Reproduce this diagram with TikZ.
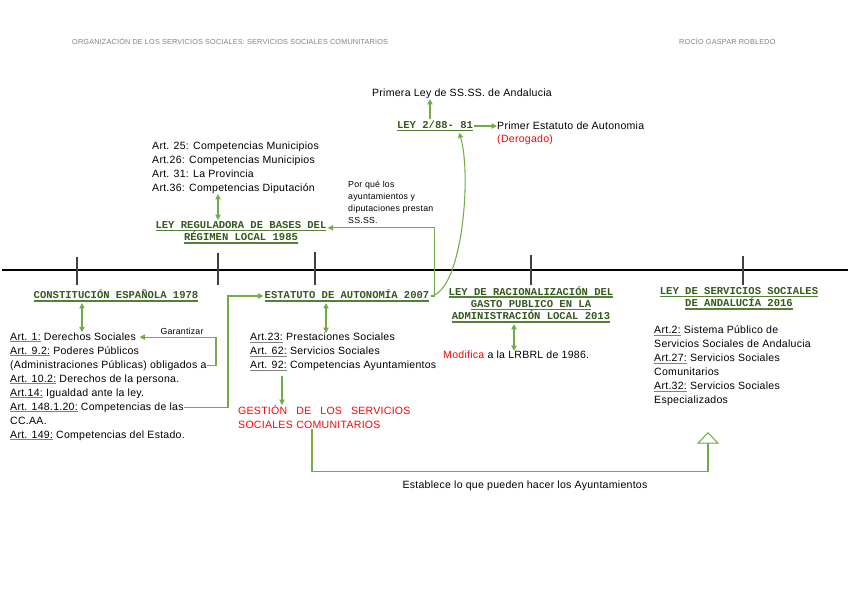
\documentclass[tikz,border=0pt]{standalone}
\usepackage{fontspec}
\setmainfont{Liberation Sans}[LetterSpace=2.5]
\newfontfamily\hdfamily{Liberation Mono}
\usetikzlibrary{arrows.meta}
\definecolor{arrgreen}{RGB}{112,173,71}
\definecolor{hdgreen}{RGB}{52,88,32}
\definecolor{hdline}{RGB}{84,130,53}
\newcommand\artu[1]{{\setbox0\hbox{#1}\rlap{\textcolor{gray}{\rule[-1.6pt]{\wd0}{0.5pt}}}\box0}}
\newcommand\hdu[1]{{\setbox0\hbox{#1}\rlap{\textcolor{hdline}{\rule[-2.4pt]{\wd0}{1.2pt}}}\box0}}
\begin{document}
\begin{tikzpicture}[x=0.03cm,y=-0.03cm,
  txt/.style={font=\fontsize{9}{11.9}\selectfont,inner sep=0pt,align=left},
  hd/.style={font=\hdfamily\bfseries\fontsize{9}{10.6}\selectfont,text=hdgreen,align=center,inner sep=1pt},
  small/.style={font=\fontsize{7.5}{10.2}\selectfont,inner sep=0pt,align=left},
  tiny/.style={font=\fontsize{6.2}{7}\selectfont,text=gray,inner sep=0pt},
  link/.style={arrgreen,line width=0.9pt,-{Triangle[length=4.5pt,width=4.5pt]}},
  both/.style={arrgreen,line width=0.9pt,{Triangle[length=4.5pt,width=4.5pt]}-{Triangle[length=4.5pt,width=4.5pt]}},
  tickmark/.style={black!75,line width=1.2pt}]
\useasboundingbox (0,0) rectangle (848,599);
\node[tiny,anchor=west] (hdr) at (72,41) {ORGANIZACIÓN DE LOS SERVICIOS SOCIALES: SERVICIOS SOCIALES COMUNITARIOS};
\node[tiny,anchor=west] (autor) at (679,41) {ROCÍO GASPAR ROBLEDO};
\draw[line width=2.4pt] (2,270) -- (848,270);
\draw[tickmark] (77,257) -- (77,285);
\draw[tickmark] (218,253) -- (218,285);
\draw[tickmark] (315,252) -- (315,285);
\draw[tickmark] (531,255) -- (531,285);
\draw[tickmark] (743,256) -- (743,285);
\node[txt] (primera) at (462,94) {Primera Ley de SS.SS. de Andalucia};
\node[hd] (ley88) at (435,126) {\hdu{LEY 2/88- 81}};
\node[txt,anchor=west] (primer) at (497,126) {Primer Estatuto de Autonomia};
\node[txt,anchor=west,text=red] (derog) at (497,140) {(Derogado)};
\node[txt,anchor=north west] (arts25) at (152,142) {Art. 25: Competencias Municipios\\Art.26: Competencias Municipios\\Art. 31: La Provincia\\Art.36: Competencias Diputación};
\node[small,anchor=north west] (porque) at (348,181) {Por qué los\\ayuntamientos y\\diputaciones prestan\\SS.SS.};
\node[hd] (lrb) at (241,232.5) {\hdu{LEY REGULADORA DE BASES DEL}\\\hdu{RÉGIMEN LOCAL 1985}};
\node[hd] (const) at (116,296) {\hdu{CONSTITUCIÓN ESPAÑOLA 1978}};
\node[hd] (est) at (347,296) {\hdu{ESTATUTO DE AUTONOMÍA 2007}};
\node[hd] (rac) at (531,304.5) {\hdu{LEY DE RACIONALIZACIÓN DEL}\\\hdu{GASTO PUBLICO EN LA}\\\hdu{ADMINISTRACIÓN LOCAL 2013}};
\node[hd] (and16) at (739,298.5) {\hdu{LEY DE SERVICIOS SOCIALES}\\\hdu{DE ANDALUCÍA 2016}};
\node[txt,anchor=base west] (l1) at (10,340) {\artu{Art. 1:} Derechos Sociales};
\node[txt,anchor=base west] (l2) at (10,354) {\artu{Art. 9.2:} Poderes Públicos};
\node[txt,anchor=base west] (l3) at (10,368) {(Administraciones Públicas) obligados a};
\node[txt,anchor=base west] (l4) at (10,382) {\artu{Art. 10.2:} Derechos de la persona.};
\node[txt,anchor=base west] (l5) at (10,396) {\artu{Art.14:} Igualdad ante la ley.};
\node[txt,anchor=base west] (l6) at (10,410) {\artu{Art. 148.1.20:} Competencias de las};
\node[txt,anchor=base west] (l7) at (10,424) {CC.AA.};
\node[txt,anchor=base west] (l8) at (10,438) {\artu{Art. 149:} Competencias del Estado.};
\node[small] (garant) at (182,331) {Garantizar};
\node[txt,anchor=north west] (arts23) at (250,333) {\artu{Art.23:} Prestaciones Sociales\\\artu{Art. 62:} Servicios Sociales\\\artu{Art. 92:} Competencias Ayuntamientos};
\node[txt,anchor=north west,text=red,text width=147pt] (gest) at (238,405) {GESTIÓN\hfill DE\hfill LOS\hfill SERVICIOS\\SOCIALES COMUNITARIOS};
\node[txt,anchor=west] (mod) at (443,355) {\textcolor{red}{Modifica} a la LRBRL de 1986.};
\node[txt,anchor=north west] (arts16) at (654,326) {\artu{Art.2:} Sistema Público de\\Servicios Sociales de Andalucia\\\artu{Art.27:} Servicios Sociales\\Comunitarios\\\artu{Art.32:} Servicios Sociales\\Especializados};
\node[txt] (estab) at (525,486) {Establece lo que pueden hacer los Ayuntamientos};
\coordinate (andtip) at (708,432);
\draw[link] (ley88.north -| 430,0) -- (primera.south -| 430,0);
\draw[link] (ley88.east) -- (primer.west);
\draw[link] (est.east) .. controls (462,292) and (472,175) .. ([xshift=-13pt]ley88.south east);
\draw[link] (est.east) -- ++(4,0) |- ([yshift=4pt]lrb.east);
\draw[both] (lrb.north -| 218,0) -- (arts25.south -| 218,0);
\draw[both] (const.south -| 82,0) -- (l1.north -| 82,0);
\draw[link] (l3.east) -- (l3.east -| 216,0) |- ([xshift=3pt]l1.east);
\draw[link] (l6.east) -- (l6.east -| 228,0) |- (est.west);
\draw[both] (est.south -| 326,0) -- (arts23.north -| 326,0);
\draw[link,shorten <=4pt] (arts23.south -| 282,0) -- (gest.north -| 282,0);
\draw[both] (rac.south -| 514,0) -- (mod.north -| 514,0);
\draw[arrgreen,line width=0.9pt,-{Triangle[open,length=10pt,width=19pt,fill=white]}] (gest.south -| 312,0) -- ++(0,43) -| (andtip);
\end{tikzpicture}
\end{document}
